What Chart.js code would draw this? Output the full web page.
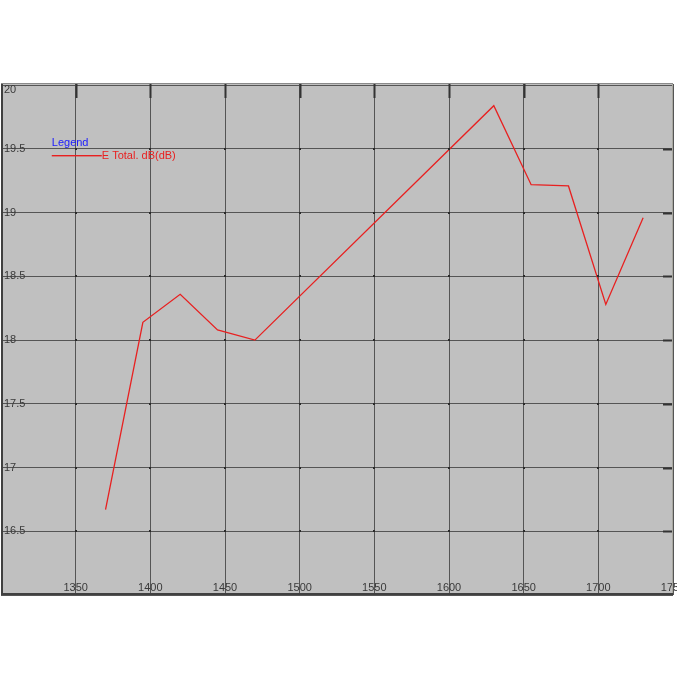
<!DOCTYPE html>
<html>
<head>
<meta charset="utf-8">
<script src="https://cdn.jsdelivr.net/npm/chart.js@4/dist/chart.umd.min.js"></script>
<style>
  html, body { margin: 0; padding: 0; background: #fff; }
  canvas { display: block; }
</style>
</head>
<body>
<canvas id="myChart" width="677" height="677"></canvas>
<script>
// data
const frequencies = [1370, 1395, 1420, 1445, 1470, 1630, 1655, 1680, 1705, 1730];
const eTotal = [16.67, 18.14, 18.36, 18.08, 18.0, 19.84, 19.22, 19.21, 18.28, 18.96];
const xTicks = [1300, 1350, 1400, 1450, 1500, 1550, 1600, 1650, 1700, 1750];
const yTicks = [16, 16.5, 17, 17.5, 18, 18.5, 19, 19.5, 20];
const seriesName = "E Total. dB(dB)";
const seriesColor = "#e82020";

const font = { family: "'Liberation Sans', Arial, sans-serif", size: 11 };

// grey plot panel, borders, tick marks, intersection dots, legend box
const panel = {
  id: "panel",
  beforeDraw(chart) {
    const { ctx, chartArea: a } = chart;
    ctx.save();
    ctx.fillStyle = "#c0c0c0";
    ctx.fillRect(a.left, a.top, a.right - a.left, a.bottom - a.top);
    ctx.restore();
  },
  afterDatasetsDraw(chart) {
    const { ctx, chartArea: a, scales } = chart;
    const x = scales.x, y = scales.y;
    ctx.save();
    // dots where grid lines cross
    ctx.fillStyle = "#2a2a2a";
    xTicks.slice(1, -1).forEach(v => {
      yTicks.slice(1, -1).forEach(w => {
        ctx.fillRect(Math.round(x.getPixelForValue(v)) - 1, Math.round(y.getPixelForValue(w)) - 1, 2, 2);
      });
    });
    // heavy ticks on top and right
    ctx.strokeStyle = "#333";
    ctx.lineWidth = 2;
    xTicks.slice(1, -1).forEach(v => {
      const px = Math.round(x.getPixelForValue(v)) + 0.5;
      ctx.beginPath();
      ctx.moveTo(px, a.top);
      ctx.lineTo(px, a.top + 14);
      ctx.stroke();
    });
    yTicks.slice(1, -1).forEach(w => {
      const py = Math.round(y.getPixelForValue(w)) + 0.5;
      ctx.beginPath();
      ctx.moveTo(a.right - 10, py);
      ctx.lineTo(a.right, py);
      ctx.stroke();
    });
    // frame
    ctx.lineWidth = 1;
    ctx.strokeStyle = "#8a8a8a";
    ctx.beginPath();
    ctx.moveTo(a.left, a.top - 0.5);
    ctx.lineTo(a.right, a.top - 0.5);
    ctx.stroke();
    ctx.strokeStyle = "#a8a8a0";
    ctx.beginPath();
    ctx.moveTo(a.right - 0.5, a.top);
    ctx.lineTo(a.right - 0.5, a.bottom);
    ctx.stroke();
    ctx.lineWidth = 2;
    ctx.strokeStyle = "#404040";
    ctx.beginPath();
    ctx.moveTo(a.left + 1, a.top);
    ctx.lineTo(a.left + 1, a.bottom - 1);
    ctx.lineTo(a.right, a.bottom - 1);
    ctx.stroke();
    // top label pushed inside the panel
    ctx.font = font.size + "px " + font.family;
    ctx.fillStyle = "#3a3a3a";
    ctx.textBaseline = "top";
    ctx.textAlign = "left";
    ctx.fillText(String(yTicks[yTicks.length - 1]), a.left + 3, y.getPixelForValue(20) - 1);
    // legend
    const ds = chart.data.datasets[0];
    const lx = x.getPixelForValue(1334), ly = Math.round(y.getPixelForValue(19.45));
    ctx.textBaseline = "middle";
    ctx.fillStyle = "#1a1aff";
    ctx.fillText("Legend", lx, ly - 12);
    ctx.fillStyle = seriesColor;
    ctx.fillRect(lx, ly, 50, 1.4);
    ctx.fillText(ds.label, lx + 50, ly + 1);
    ctx.restore();
  }
};

const ctx = document.getElementById("myChart").getContext("2d");

new Chart(ctx, {
  type: "line",
  data: {
    datasets: [
      {
        label: seriesName,
        data: frequencies.map((f, i) => ({ x: f, y: eTotal[i] })),
        borderColor: seriesColor,
        borderWidth: 1.3,
        pointRadius: 0,
        tension: 0,
        fill: false,
      },
    ],
  },
  options: {
    responsive: false,
    animation: false,
    devicePixelRatio: 1,
    layout: { padding: { left: 1, right: 4, top: 84, bottom: 82 } },
    plugins: { legend: { display: false }, tooltip: { enabled: false } },
    scales: {
      x: {
        type: "linear",
        min: xTicks[0],
        max: xTicks[xTicks.length - 1],
        afterBuildTicks: s => { s.ticks = xTicks.map(v => ({ value: v })); },
        afterFit: s => { s.height = 0; s.paddingLeft = 0; s.paddingRight = 0; },
        border: { display: false },
        grid: { color: "#555555", lineWidth: 1, drawTicks: false },
        ticks: {
          mirror: true,
          padding: 0,
          autoSkip: false,
          maxRotation: 0,
          color: "#3a3a3a",
          font: font,
          callback: v => (v === xTicks[0] ? "" : String(v)),
        },
      },
      y: {
        type: "linear",
        min: yTicks[0],
        max: yTicks[yTicks.length - 1] + 0.01,
        afterBuildTicks: s => { s.ticks = yTicks.map(v => ({ value: v })); },
        afterFit: s => { s.width = 0; s.paddingTop = 0; s.paddingBottom = 0; },
        border: { display: false },
        grid: { color: "#555555", lineWidth: 1, drawTicks: false },
        ticks: {
          mirror: true,
          padding: 3,
          color: "#3a3a3a",
          font: font,
          callback: v => (v === yTicks[0] || v === yTicks[yTicks.length - 1] ? "" : String(v)),
        },
      },
    },
  },
  plugins: [panel],
});
</script>
</body>
</html>
